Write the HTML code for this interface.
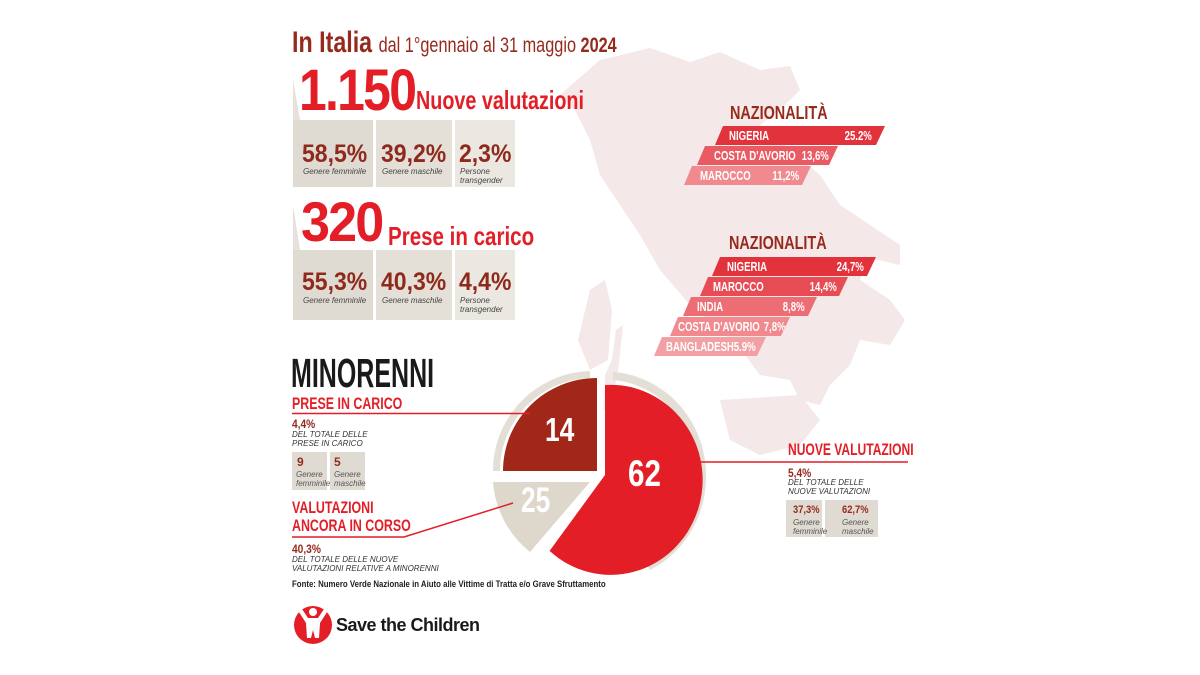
<!DOCTYPE html>
<html><head><meta charset="utf-8"><style>
body{margin:0;background:#fff;}
#c{position:relative;width:1200px;height:675px;overflow:hidden;background:#fff;font-family:"Liberation Sans",sans-serif;}
.a{position:absolute;white-space:nowrap;transform-origin:0 0;}
.b{font-weight:bold;}
.dr{color:#962a1c;}
.r{color:#e31e26;}
.box{position:absolute;background:#e0dbd2;}
.box2{position:absolute;background:#ebe7e1;}
.pct{position:absolute;font-weight:bold;color:#8e2a1c;font-size:25px;line-height:25px;transform:scaleX(0.92);transform-origin:0 0;white-space:nowrap;}
.lab{position:absolute;font-style:italic;font-size:8px;line-height:9px;color:#444;white-space:nowrap;}
.bar{position:absolute;height:19px;color:#fff;font-weight:bold;font-size:13px;line-height:19px;}
.bar span{position:absolute;white-space:nowrap;transform:scaleX(0.74);transform-origin:0 0;}
.bar span.rt{transform-origin:100% 0;}
.sm{font-style:italic;font-size:8px;line-height:8.5px;color:#333;}
</style></head><body><div id="c">
<svg class="a" style="left:0;top:0" width="1200" height="675">
<path fill="#f4e8e8" d="M600,60 L650,48 L690,62 L720,52 L760,70 L790,66 L800,90 L780,110 L760,125 L790,150 L820,175 L840,205 L870,225 L900,245 L900,265 L870,258 L860,280 L890,300 L905,320 L890,345 L860,340 L850,365 L830,385 L820,405 L800,400 L790,380 L760,375 L745,355 L720,330 L690,305 L660,270 L640,235 L620,205 L600,175 L590,140 L575,110 L560,95 Z"/>
<path fill="#f4e8e8" d="M720,400 L800,395 L820,420 L800,445 L760,455 L730,440 Z"/>
<path fill="#f4e8e8" d="M590,290 L605,280 L612,310 L608,360 L590,370 L578,340 Z"/>
<path fill="#f4e8e8" d="M604,410 L605,375 L612,360 L616,330 L623,325 L618,372 L610,410 Z"/>
<path fill="#e6e1da" d="M293,80 L300,120 L293,120Z"/>
<path fill="#e6e1da" d="M293,205 L300,250 L293,250Z"/>
<path fill="#e4dfd6" d="M613,372 A100,104 0 0 1 706,480 A100,104 0 0 1 650,570 L645,562 A92,95 0 0 0 697,478 A92,95 0 0 0 613,380 Z"/>
<path fill="#e4dfd6" d="M493,471 A100,100 0 0 1 590,371 L590,378 A93,93 0 0 0 500,471 Z"/>
<path fill="#ddd7cc" d="M493,482 L590,482 L530,552 A102,100 0 0 1 493,482Z"/>
<path fill="#e31e26" d="M605,385 A92,95 0 1 1 549.6,550.9 L605,475 Z"/>
<path fill="#a12718" d="M597,471 L503,471 A94,93 0 0 1 597,378 Z"/>
<line x1="292" y1="413.5" x2="530" y2="413.5" stroke="#e31e26" stroke-width="1.5"/>
<polyline points="292,537 404,537 513,503" fill="none" stroke="#e31e26" stroke-width="1.5"/>
<line x1="697" y1="462" x2="908" y2="462" stroke="#e31e26" stroke-width="1.5"/>
<circle cx="313" cy="625" r="19" fill="#e31e26"/>
<circle cx="313" cy="612" r="4" fill="#fff"/>
<path d="M300,606 L308,618 L318,618 L326,606 L329,609 L320,623 L319,638 L315,638 L313,630 L311,638 L307,638 L306,623 L297,609Z" fill="#fff"/>
</svg>
<div class="a b dr" style="left:292px;top:28px;font-size:30px;line-height:30px;transform:scaleX(0.775)">In Italia <span style="font-weight:normal;font-size:21px;">dal 1°gennaio al 31 maggio </span><span style="font-size:21px">2024</span></div>
<div class="a b r" style="left:299px;top:62px;font-size:58px;line-height:58px;letter-spacing:-2px;transform:scaleX(0.86)">1.150</div>
<div class="a b r" style="left:416px;top:86px;font-size:26px;line-height:28px;transform:scaleX(0.76)">Nuove valutazioni</div>
<div class="box" style="left:293px;top:120px;width:80px;height:67px"></div>
<div class="box" style="left:376px;top:120px;width:76px;height:67px;background:#e4e0d8"></div>
<div class="box2" style="left:455px;top:120px;width:60px;height:67px"></div>
<div class="pct" style="left:302px;top:142px">58,5%</div><div class="lab" style="left:303px;top:167px">Genere femminile</div>
<div class="pct" style="left:381px;top:142px">39,2%</div><div class="lab" style="left:382px;top:167px">Genere maschile</div>
<div class="pct" style="left:459px;top:142px">2,3%</div><div class="lab" style="left:460px;top:167px">Persone<br>transgender</div>
<div class="a b r" style="left:301px;top:194px;font-size:56px;line-height:56px;letter-spacing:-2px;transform:scaleX(0.93)">320</div>
<div class="a b r" style="left:388px;top:222px;font-size:26px;line-height:28px;transform:scaleX(0.79)">Prese in carico</div>
<div class="box" style="left:293px;top:250px;width:80px;height:70px"></div>
<div class="box" style="left:376px;top:250px;width:76px;height:70px;background:#e4e0d8"></div>
<div class="box2" style="left:455px;top:250px;width:60px;height:70px"></div>
<div class="pct" style="left:302px;top:270px">55,3%</div><div class="lab" style="left:303px;top:296px">Genere femminile</div>
<div class="pct" style="left:381px;top:270px">40,3%</div><div class="lab" style="left:382px;top:296px">Genere maschile</div>
<div class="pct" style="left:459px;top:270px">4,4%</div><div class="lab" style="left:460px;top:296px">Persone<br>transgender</div>

<div class="a b dr" style="left:730px;top:103px;font-size:18px;line-height:20px;transform:scaleX(0.8)">NAZIONALITÀ</div>
<div class="bar" style="left:715px;top:126px;width:170px;background:#e2323b;clip-path:polygon(8px 0,100% 0,calc(100% - 9px) 100%,0 100%)"><span style="left:14px">NIGERIA</span><span class="rt" style="right:13px">25.2%</span></div>
<div class="bar" style="left:697px;top:146px;width:141px;background:#e95a62;clip-path:polygon(8px 0,100% 0,calc(100% - 9px) 100%,0 100%)"><span style="left:17px">COSTA D'AVORIO</span><span class="rt" style="right:9px">13,6%</span></div>
<div class="bar" style="left:684px;top:166px;width:127px;background:#f08a8e;clip-path:polygon(8px 0,100% 0,calc(100% - 9px) 100%,0 100%)"><span style="left:16px">MAROCCO</span><span class="rt" style="right:12px">11,2%</span></div>

<div class="a b dr" style="left:729px;top:233px;font-size:18px;line-height:20px;transform:scaleX(0.8)">NAZIONALITÀ</div>
<div class="bar" style="left:712px;top:257px;width:164px;background:#e2323b;clip-path:polygon(8px 0,100% 0,calc(100% - 9px) 100%,0 100%)"><span style="left:15px">NIGERIA</span><span class="rt" style="right:12px">24,7%</span></div>
<div class="bar" style="left:700px;top:277px;width:148px;background:#e74c55;clip-path:polygon(8px 0,100% 0,calc(100% - 9px) 100%,0 100%)"><span style="left:13px">MAROCCO</span><span class="rt" style="right:11px">14,4%</span></div>
<div class="bar" style="left:683px;top:297px;width:134px;background:#ec6d73;clip-path:polygon(8px 0,100% 0,calc(100% - 9px) 100%,0 100%)"><span style="left:14px">INDIA</span><span class="rt" style="right:12px">8,8%</span></div>
<div class="bar" style="left:670px;top:317px;width:120px;background:#f08a8e;clip-path:polygon(8px 0,100% 0,calc(100% - 9px) 100%,0 100%)"><span style="left:8px">COSTA D'AVORIO</span><span class="rt" style="right:4px">7,8%</span></div>
<div class="bar" style="left:654px;top:337px;width:112px;background:#f2a0a3;clip-path:polygon(8px 0,100% 0,calc(100% - 9px) 100%,0 100%)"><span style="left:12px">BANGLADESH</span><span class="rt" style="right:10px">5.9%</span></div>

<div class="a b" style="left:291px;top:352px;font-size:41px;line-height:42px;color:#1a1a1a;transform:scaleX(0.61)">MINORENNI</div>
<div class="a b r" style="left:292px;top:394px;font-size:17px;line-height:19px;transform:scaleX(0.73)">PRESE IN CARICO</div>
<div class="a b dr" style="left:292px;top:418px;font-size:12px;line-height:13px;transform:scaleX(0.85)">4,4%</div>
<div class="a sm" style="left:292px;top:431px;">DEL TOTALE DELLE<br>PRESE IN CARICO</div>
<div class="box" style="left:292px;top:452px;width:35px;height:38px"></div>
<div class="box" style="left:330px;top:452px;width:35px;height:38px"></div>
<div class="a b dr" style="left:297px;top:455px;font-size:12px">9</div>
<div class="a b dr" style="left:334px;top:455px;font-size:12px">5</div>
<div class="a sm" style="left:296px;top:471px;color:#555">Genere<br>femminile</div>
<div class="a sm" style="left:334px;top:471px;color:#555">Genere<br>maschile</div>
<div class="a b r" style="left:292px;top:499px;font-size:17px;line-height:18px;transform:scaleX(0.73)">VALUTAZIONI<br>ANCORA IN CORSO</div>
<div class="a b dr" style="left:292px;top:543px;font-size:12px;line-height:13px;transform:scaleX(0.85)">40,3%</div>
<div class="a sm" style="left:292px;top:556px;">DEL TOTALE DELLE NUOVE<br>VALUTAZIONI RELATIVE A MINORENNI</div>
<div class="a b" style="left:292px;top:579px;font-size:9px;color:#222;transform:scaleX(0.87)">Fonte: Numero Verde Nazionale in Aiuto alle Vittime di Tratta e/o Grave Sfruttamento</div>
<div class="a b" style="left:336px;top:614px;font-size:18px;line-height:22px;color:#1a1a1a;letter-spacing:-0.5px">Save the Children</div>

<div class="a b" style="left:545px;top:413px;font-size:33px;line-height:34px;color:#fff;transform:scaleX(0.8)">14</div>
<div class="a b" style="left:628px;top:455px;font-size:37px;line-height:38px;color:#fff;transform:scaleX(0.8)">62</div>
<div class="a b" style="left:521px;top:483px;font-size:35px;line-height:36px;color:#fff;transform:scaleX(0.75)">25</div>

<div class="a b r" style="left:788px;top:440px;font-size:17px;line-height:19px;transform:scaleX(0.71)">NUOVE VALUTAZIONI</div>
<div class="a b dr" style="left:788px;top:467px;font-size:12px;line-height:13px;transform:scaleX(0.85)">5,4%</div>
<div class="a sm" style="left:788px;top:479px;">DEL TOTALE DELLE<br>NUOVE VALUTAZIONI</div>
<div class="box" style="left:786px;top:500px;width:36px;height:37px"></div>
<div class="box" style="left:825px;top:500px;width:53px;height:37px"></div>
<div class="a b dr" style="left:793px;top:504px;font-size:11px;transform:scaleX(0.85)">37,3%</div>
<div class="a b dr" style="left:842px;top:504px;font-size:11px;transform:scaleX(0.85)">62,7%</div>
<div class="a sm" style="left:793px;top:519px;color:#555">Genere<br>femminile</div>
<div class="a sm" style="left:842px;top:519px;color:#555">Genere<br>maschile</div>
</div></body></html>
